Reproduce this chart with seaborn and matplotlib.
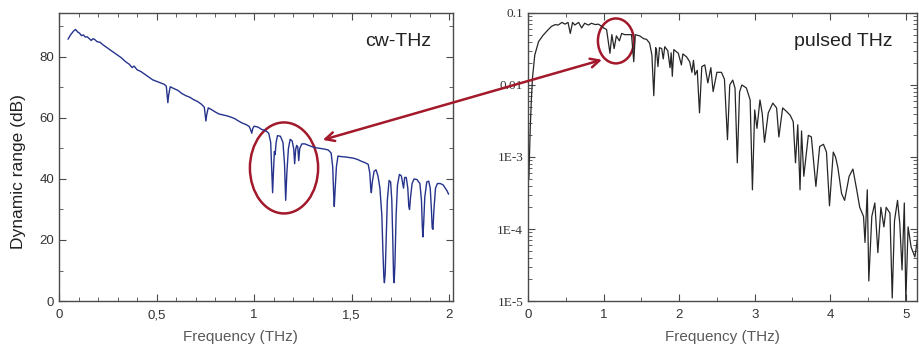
import matplotlib
matplotlib.use("Agg")
import matplotlib.pyplot as plt
import matplotlib.ticker as mticker
from matplotlib.patches import Ellipse, ConnectionPatch
import seaborn as sns
import pandas as pd

# cw-THz dynamic range (dB) vs frequency (THz)
cw_freq = [0.046, 0.06, 0.075, 0.085, 0.095, 0.105, 0.115, 0.125, 0.135, 0.145,
           0.155, 0.165, 0.175, 0.185, 0.195, 0.21, 0.225, 0.24, 0.26, 0.28,
           0.30, 0.32, 0.34, 0.36, 0.375, 0.385, 0.40, 0.42, 0.44, 0.46,
           0.48, 0.50, 0.52, 0.54, 0.55, 0.555, 0.558, 0.562, 0.57, 0.59,
           0.61, 0.63, 0.65, 0.67, 0.69, 0.71, 0.73, 0.745, 0.75, 0.753,
           0.757, 0.765, 0.78, 0.80, 0.82, 0.84, 0.86, 0.88, 0.90, 0.92,
           0.94, 0.96, 0.975, 0.983, 0.988, 0.993, 1.00, 1.02, 1.04, 1.06,
           1.075, 1.085, 1.091, 1.095, 1.099, 1.104, 1.108, 1.113, 1.12, 1.135,
           1.148, 1.156, 1.162, 1.168, 1.176, 1.185, 1.195, 1.203, 1.208, 1.213,
           1.218, 1.224, 1.229, 1.234, 1.245, 1.26, 1.28, 1.30, 1.32, 1.34,
           1.36, 1.38, 1.395, 1.403, 1.408, 1.411, 1.415, 1.422, 1.43, 1.45,
           1.47, 1.49, 1.51, 1.53, 1.55, 1.57, 1.585, 1.593, 1.598, 1.601,
           1.606, 1.615, 1.625, 1.635, 1.645, 1.655, 1.66, 1.665, 1.668, 1.672,
           1.677, 1.683, 1.692, 1.70, 1.706, 1.711, 1.715, 1.718, 1.722, 1.728,
           1.735, 1.745, 1.755, 1.762, 1.766, 1.772, 1.78, 1.788, 1.793, 1.797,
           1.802, 1.81, 1.82, 1.835, 1.85, 1.858, 1.862, 1.865, 1.869, 1.875,
           1.885, 1.895, 1.903, 1.909, 1.913, 1.917, 1.922, 1.93, 1.94, 1.955,
           1.97, 1.98, 1.99, 1.997]
cw_range = [85.8, 87.3, 88.5, 89.0, 88.2, 87.8, 87.0, 87.2, 86.5, 86.6,
            86.0, 85.4, 86.0, 85.6, 85.0, 84.8, 84.0, 83.3, 82.4, 81.5,
            80.6, 79.7, 78.5, 77.6, 76.5, 77.0, 75.8, 75.2, 74.3, 73.4,
            72.5, 72.0, 71.5, 71.0, 70.4, 67.0, 65.0, 67.5, 70.2, 69.6,
            69.0, 68.0, 67.3, 66.8, 66.0, 65.4, 64.5, 63.5, 60.5, 59.0,
            61.0, 63.3, 62.8, 62.0, 61.3, 61.0, 60.7, 60.3, 59.8, 59.0,
            58.3, 57.8, 57.2, 56.0, 55.0, 56.5, 57.3, 57.0, 56.2, 55.8,
            55.0, 52.0, 42.0, 35.5, 42.0, 49.0, 48.0, 52.0, 54.2, 54.0,
            52.0, 45.0, 33.0, 42.0, 50.0, 53.0, 52.5, 50.0, 45.0, 49.5,
            51.0, 50.5, 46.0, 50.0, 51.5, 51.5, 51.0, 50.5, 50.2, 50.0,
            49.8, 49.5, 48.5, 44.0, 35.0, 31.0, 36.0, 44.0, 47.5, 47.3,
            47.2, 47.0, 46.8, 46.4, 45.8, 45.3, 44.8, 42.0, 37.0, 35.5,
            39.0, 42.5, 43.0, 41.0, 37.0, 28.0, 17.0, 8.0, 6.0, 9.0,
            20.0, 33.0, 39.5, 39.0, 33.0, 20.0, 8.0, 6.0, 12.0, 28.0,
            38.0, 41.5, 41.0, 38.5, 37.0, 40.5, 40.5, 37.0, 31.0, 30.0,
            34.0, 38.5, 40.0, 39.8, 38.5, 33.0, 25.0, 21.0, 25.0, 34.0,
            39.0, 39.3, 37.0, 30.0, 24.0, 23.5, 30.0, 37.0, 38.5, 38.5,
            38.0, 37.0, 36.0, 35.0]

# pulsed THz amplitude (a.u.) vs frequency (THz)
pulsed_freq = [0.012, 0.020, 0.030, 0.045, 0.060, 0.09, 0.14, 0.20, 0.26, 0.31,
               0.36, 0.40, 0.45, 0.49, 0.53, 0.56, 0.59, 0.62, 0.67, 0.71,
               0.75, 0.80, 0.84, 0.89, 0.93, 0.97, 1.00, 1.04, 1.085, 1.11,
               1.14, 1.17, 1.21, 1.24, 1.28, 1.33, 1.37, 1.40, 1.42, 1.48,
               1.53, 1.57, 1.61, 1.64, 1.665, 1.69, 1.70, 1.72, 1.74, 1.77,
               1.79, 1.81, 1.85, 1.88, 1.895, 1.91, 1.93, 1.99, 2.03, 2.05,
               2.10, 2.14, 2.17, 2.19, 2.21, 2.24, 2.27, 2.30, 2.34, 2.38,
               2.42, 2.45, 2.50, 2.56, 2.60, 2.64, 2.67, 2.71, 2.74, 2.77,
               2.80, 2.83, 2.89, 2.94, 2.97, 3.00, 3.03, 3.07, 3.10, 3.13,
               3.18, 3.24, 3.29, 3.32, 3.37, 3.42, 3.47, 3.51, 3.54, 3.57,
               3.60, 3.62, 3.65, 3.71, 3.75, 3.81, 3.86, 3.91, 3.95, 3.99,
               4.04, 4.07, 4.10, 4.15, 4.19, 4.25, 4.30, 4.35, 4.39, 4.44,
               4.46, 4.49, 4.51, 4.55, 4.59, 4.63, 4.67, 4.71, 4.74, 4.79,
               4.82, 4.85, 4.89, 4.92, 4.95, 4.98, 5.00, 5.03, 5.07, 5.12,
               5.16]
pulsed_amp = [5.0e-4, 1.0e-3, 2.5e-3, 6.3e-3, 1.26e-2, 2.6e-2, 4.0e-2, 4.9e-2, 5.75e-2, 6.5e-2,
              6.9e-2, 6.8e-2, 7.4e-2, 7.0e-2, 7.4e-2, 5.2e-2, 7.4e-2, 6.8e-2, 7.4e-2, 6.2e-2,
              7.2e-2, 6.8e-2, 7.2e-2, 6.9e-2, 7.0e-2, 6.6e-2, 6.2e-2, 5.9e-2, 2.75e-2, 5.0e-2,
              3.2e-2, 4.8e-2, 4.1e-2, 5.2e-2, 5.0e-2, 5.0e-2, 5.0e-2, 2.1e-2, 5.0e-2, 4.8e-2,
              4.4e-2, 4.3e-2, 3.8e-2, 2.6e-2, 7.1e-3, 3.3e-2, 3.1e-2, 1.8e-2, 3.3e-2, 3.2e-2,
              2.3e-2, 3.4e-2, 3.0e-2, 1.74e-2, 2.8e-2, 1.32e-2, 3.1e-2, 2.75e-2, 1.9e-2, 2.7e-2,
              2.45e-2, 2.1e-2, 1.5e-2, 2.2e-2, 1.38e-2, 1.6e-2, 4.1e-3, 1.8e-2, 1.9e-2, 1.07e-2,
              1.74e-2, 8.1e-3, 1.5e-2, 1.5e-2, 1.2e-2, 1.74e-3, 1.0e-2, 1.17e-2, 9.0e-3, 8.3e-4,
              8.0e-3, 1.0e-2, 9.1e-3, 6.2e-3, 3.5e-4, 4.5e-3, 2.5e-3, 6.2e-3, 4.0e-3, 1.6e-3,
              4.1e-3, 5.6e-3, 4.8e-3, 1.9e-3, 4.8e-3, 4.3e-3, 3.8e-3, 3.1e-3, 8.3e-4, 2.8e-3,
              3.5e-4, 2.3e-3, 5.4e-4, 2.0e-3, 1.9e-3, 3.9e-4, 1.4e-3, 1.5e-3, 1.17e-3, 2.1e-4,
              1.17e-3, 1.0e-3, 7.2e-4, 3.1e-4, 2.5e-4, 5.4e-4, 6.8e-4, 3.5e-4, 2.0e-4, 1.5e-4,
              6.5e-5, 3.5e-4, 1.9e-5, 1.5e-4, 2.3e-4, 4.7e-5, 2.0e-4, 1.07e-4, 2.0e-4, 1.66e-4,
              1.1e-5, 1.3e-4, 2.5e-4, 1.2e-4, 2.7e-5, 2.3e-4, 1.0e-5, 1.07e-4, 5.6e-5, 4.1e-5,
              8.0e-5]

cw_xticks = [0, 0.5, 1, 1.5, 2]
cw_xlabels = ["0", "0,5", "1", "1,5", "2"]
pulsed_yticks = [1e-5, 1e-4, 1e-3, 1e-2, 1e-1]
pulsed_ylabels = ["1E-5", "1E-4", "1E-3", "0.01", "0.1"]

sns.set_style("ticks")
plt.rcParams["font.family"] = ["Liberation Sans", "DejaVu Sans"]
plt.rcParams["xtick.direction"] = "in"
plt.rcParams["ytick.direction"] = "in"

RED = "#a3192c"
SPINE = "#4a4a4a"
TXT = "#333333"

fig = plt.figure(figsize=(9.19, 3.49), dpi=100)
ax1 = fig.add_axes([0.0642, 0.1375, 0.4288, 0.8253])
ax2 = fig.add_axes([0.5745, 0.1375, 0.4235, 0.8253])

cw_df = pd.DataFrame({"freq": cw_freq, "dr": cw_range})
pulsed_df = pd.DataFrame({"freq": pulsed_freq, "amp": pulsed_amp})

sns.lineplot(data=cw_df, x="freq", y="dr", ax=ax1, color="#25338c",
             linewidth=1.0, sort=False, estimator=None)
sns.lineplot(data=pulsed_df, x="freq", y="amp", ax=ax2, color="#262626",
             linewidth=0.9, sort=False, estimator=None)

# left panel
ax1.set_xlim(0, 2.02)
ax1.set_ylim(0, 94.4)
ax1.set_xticks(cw_xticks)
ax1.set_xticklabels(cw_xlabels)
ax1.xaxis.set_minor_locator(mticker.MultipleLocator(0.1))
ax1.yaxis.set_major_locator(mticker.MultipleLocator(20))
ax1.yaxis.set_minor_locator(mticker.MultipleLocator(10))
ax1.set_xlabel("Frequency (THz)", fontsize=11, color="#5a5a5a")
ax1.set_ylabel("Dynamic range (dB)", fontsize=12.5, color="#222222")
ax1.xaxis.set_label_coords(0.46, -0.1)
ax1.yaxis.set_label_coords(-0.083, 0.45)
ax1.text(0.86, 0.9, "cw-THz", transform=ax1.transAxes, fontsize=14,
         color="#222222", ha="center", va="center")

# right panel
ax2.set_yscale("log")
ax2.set_xlim(0, 5.15)
ax2.set_ylim(1e-5, 1e-1)
ax2.yaxis.set_major_locator(mticker.FixedLocator(pulsed_yticks))
ax2.yaxis.set_major_formatter(mticker.FixedFormatter(pulsed_ylabels))
ax2.yaxis.set_minor_locator(mticker.LogLocator(base=10, subs=range(2, 10)))
ax2.yaxis.set_minor_formatter(mticker.NullFormatter())
ax2.xaxis.set_major_locator(mticker.MultipleLocator(1))
ax2.xaxis.set_minor_locator(mticker.MultipleLocator(0.5))
for lab in ax2.get_yticklabels():
    lab.set_fontfamily(["Liberation Serif", "DejaVu Serif"])
    lab.set_fontsize(10)
ax2.set_xlabel("Frequency (THz)", fontsize=11, color="#5a5a5a")
ax2.xaxis.set_label_coords(0.5, -0.1)
ax2.set_ylabel("")
ax2.text(0.81, 0.9, "pulsed THz", transform=ax2.transAxes, fontsize=14,
         color="#222222", ha="center", va="center")

for ax in (ax1, ax2):
    for sp in ax.spines.values():
        sp.set_color(SPINE)
        sp.set_linewidth(1.0)
    ax.tick_params(which="both", top=True, right=True, colors=SPINE,
                   labelcolor=TXT, labelsize=9.5)
    ax.tick_params(which="major", length=5)
    ax.tick_params(which="minor", length=3)
    ax.tick_params(axis="x", pad=6)

# red markers: circled absorption lines and the arrow linking the panels
ax1.add_patch(Ellipse((0.571, 0.462), 0.173, 0.316, transform=ax1.transAxes,
                      fill=False, edgecolor=RED, linewidth=1.8, clip_on=False))
ax2.add_patch(Ellipse((0.226, 0.903), 0.0925, 0.156, transform=ax2.transAxes,
                      fill=False, edgecolor=RED, linewidth=1.8, clip_on=False))
arrow = ConnectionPatch(xyA=(1.352, 52.8), coordsA=ax1.transData,
                        xyB=(0.98, 0.0224), coordsB=ax2.transData,
                        arrowstyle="<->", color=RED, linewidth=1.8,
                        mutation_scale=16)
fig.add_artist(arrow)

fig.savefig("out.png", dpi=100)
